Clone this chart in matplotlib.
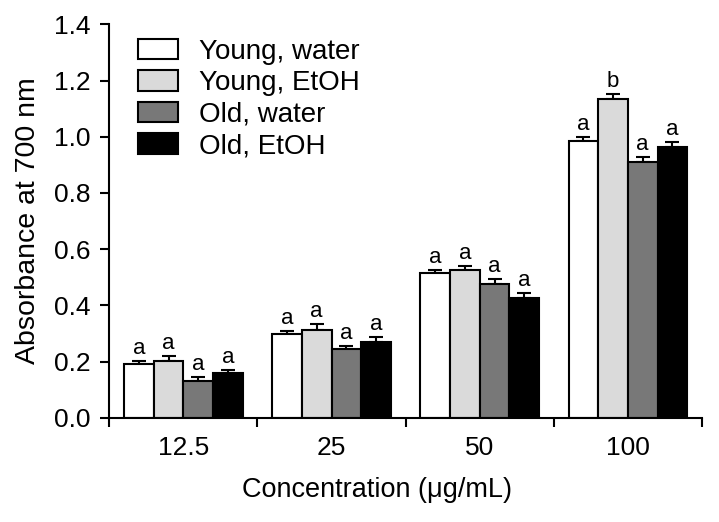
import matplotlib
matplotlib.use('Agg')
import matplotlib.pyplot as plt
import numpy as np

plt.rcParams['font.family'] = ['Liberation Sans', 'DejaVu Sans']
plt.rcParams['font.size'] = 19

concentrations = ['12.5', '25', '50', '100']
series = ['Young, water', 'Young, EtOH', 'Old, water', 'Old, EtOH']

young_water = [0.191, 0.297, 0.514, 0.985]
young_etoh = [0.203, 0.312, 0.526, 1.133]
old_water = [0.131, 0.243, 0.475, 0.911]
old_etoh = [0.159, 0.270, 0.425, 0.964]

young_water_err = [0.012, 0.012, 0.013, 0.015]
young_etoh_err = [0.018, 0.020, 0.015, 0.020]
old_water_err = [0.015, 0.011, 0.019, 0.018]
old_etoh_err = [0.012, 0.016, 0.018, 0.018]

letters = [['a', 'a', 'a', 'a'],
           ['a', 'a', 'a', 'b'],
           ['a', 'a', 'a', 'a'],
           ['a', 'a', 'a', 'a']]

values = [young_water, young_etoh, old_water, old_etoh]
errors = [young_water_err, young_etoh_err, old_water_err, old_etoh_err]
colors = ['white', '#dadada', '#787878', 'black']

fig = plt.figure(figsize=(7.19, 5.22), dpi=100)
ax = fig.add_axes([0.152, 0.1998, 0.8243, 0.7536])

x = np.arange(len(concentrations))
w = 0.2
for i, (vals, errs) in enumerate(zip(values, errors)):
    pos = x + (i - 1.5) * w
    ax.bar(pos, vals, w, color=colors[i], edgecolor='black', linewidth=1.5,
           label=series[i], zorder=2)
    ax.errorbar(pos, vals, yerr=[np.zeros(len(errs)), errs], fmt='none',
                ecolor='black', elinewidth=1.5, capsize=5, capthick=1.5, zorder=1)
    for j in range(len(vals)):
        ax.annotate(letters[i][j], (pos[j], vals[j] + errs[j]),
                    xytext=(0, 5), textcoords='offset points',
                    ha='center', va='baseline', fontsize=16)

ax.set_xlim(-0.5, 3.5)
ax.set_ylim(0, 1.4)
ax.set_yticks(np.arange(0, 1.41, 0.2))
ax.set_yticklabels([f'{v:.1f}' for v in np.arange(0, 1.41, 0.2)])
ax.set_xticks(np.arange(-0.5, 3.6, 1.0))
ax.set_xticklabels([])
ax.set_xticks(x, minor=True)
ax.set_xticklabels(concentrations, minor=True)
ax.tick_params(axis='x', which='minor', length=0, pad=13)
ax.tick_params(axis='both', which='major', length=6.5, width=1.5, direction='out')
ax.tick_params(axis='y', which='major', pad=7)
for s in ['top', 'right']:
    ax.spines[s].set_visible(False)
for s in ['left', 'bottom']:
    ax.spines[s].set_linewidth(1.5)

ax.set_ylabel('Absorbance at 700 nm', labelpad=9, fontsize=20.5)
ax.set_xlabel('Concentration (\u03bcg/mL)', fontsize=19.5)
ax.xaxis.set_label_coords(0.4517, -0.152)

ax.legend(loc='upper left', bbox_to_anchor=(0.0484, 0.9637), frameon=False,
          borderpad=0, borderaxespad=0, labelspacing=0.2, fontsize=20,
          handlelength=1.44, handleheight=0.76, handletextpad=0.75)

fig.savefig('out.png', dpi=100)
